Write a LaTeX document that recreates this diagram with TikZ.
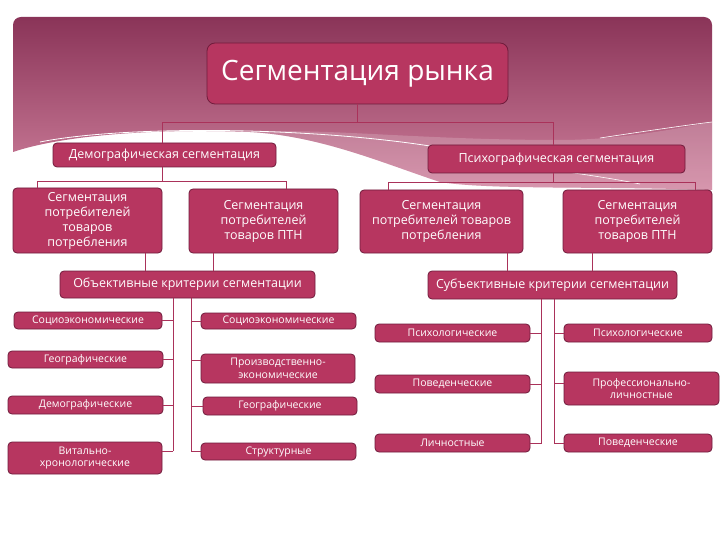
\documentclass[tikz,border=0pt]{standalone}
\usepackage{fontspec}
\setmainfont{Open Sans}
\usetikzlibrary{calc,positioning}
\definecolor{bordo}{RGB}{183,54,96}
\definecolor{bordosombre}{RGB}{112,28,60}
\definecolor{fondhaut}{RGB}{138,52,88}
\definecolor{fondbas}{RGB}{206,128,156}
\definecolor{lien}{RGB}{170,50,90}

\tikzset{
  boite/.style={draw=bordosombre,fill=bordo,text=white,rounded corners=4pt,
    line width=0.8pt,inner sep=1pt,align=center},
  petit/.style={boite,font=\fontsize{10.5}{12.5}\selectfont},
  moyen/.style={boite,font=\fontsize{12.5}{15}\selectfont},
  lien/.style={draw=lien,line width=1pt},
}

\begin{document}
\begin{tikzpicture}[x=1pt,y=-1pt]
  \useasboundingbox[fill=white] (0,0) rectangle (720,540);
  %% bandeau de fond
  \shade[top color=fondhaut,bottom color=fondbas]
    (13,152) [rounded corners=8pt] -- (13,17) -- (712,17) [sharp corners] -- (712,190)
    .. controls (600,186) and (490,190) .. (440,182)
    .. controls (380,162) and (320,136) .. (250,132)
    .. controls (150,128) and (60,136) .. (13,152) -- cycle;
  \fill[white,opacity=0.18] (250,132) .. controls (330,128) and (420,140) .. (560,140)
    .. controls (620,140) and (680,128) .. (712,122) -- (712,190)
    .. controls (600,186) and (490,190) .. (440,182)
    .. controls (380,162) and (320,136) .. (250,132) -- cycle;
  \draw[white,line width=0.8pt] (40,142) .. controls (120,126) and (300,126) .. (430,146);
  \draw[white,line width=0.6pt] (600,138) .. controls (640,132) and (680,126) .. (712,122);
  \draw[white,line width=0.6pt] (520,166) .. controls (570,172) and (610,178) .. (640,184);

  %% niveau 1
  \node[boite,rounded corners=8pt,minimum width=301,minimum height=61,
    font=\fontsize{28}{32}\selectfont] (titre) at (357.5,73.5) {Сегментация рынка};

  %% niveau 2
  \node[moyen,minimum width=223,minimum height=24] (demo) at (164.5,155) {Демографическая сегментация};
  \node[moyen,minimum width=257,minimum height=28] (psy) at (556.5,159) {Психографическая сегментация};

  %% niveau 3
  \node[moyen,minimum width=149,minimum height=65] (seg1) at (87.5,220.5) {Сегментация\\потребителей\\товаров\\потребления};
  \node[moyen,minimum width=149,minimum height=64] (seg2) at (263.5,221) {Сегментация\\потребителей\\товаров ПТН};
  \node[moyen,minimum width=163,minimum height=63] (seg3) at (441.5,221.5) {Сегментация\\потребителей товаров\\потребления};
  \node[moyen,minimum width=149,minimum height=63] (seg4) at (637.5,221.5) {Сегментация\\потребителей\\товаров ПТН};

  %% niveau 4
  \node[moyen,minimum width=255,minimum height=27] (obj) at (187.5,284.5) {Объективные критерии сегментации};
  \node[moyen,minimum width=249,minimum height=28] (subj) at (552.5,285) {Субъективные критерии сегментации};

  %% critères objectifs
  \node[petit,minimum width=148,minimum height=17] (ol1) at (88,320.5) {Социоэкономические};
  \node[petit,minimum width=155,minimum height=17] (ol2) at (85.5,359.5) {Географические};
  \node[petit,minimum width=155,minimum height=18] (ol3) at (85.5,405) {Демографические};
  \node[petit,minimum width=154,minimum height=32] (ol4) at (85,458) {Витально-\\хронологические};
  \node[petit,minimum width=155,minimum height=16] (or1) at (278.5,321) {Социоэкономические};
  \node[petit,minimum width=154,minimum height=29] (or2) at (278,368.5) {Производственно-\\экономические};
  \node[petit,minimum width=154,minimum height=18] (or3) at (280,406) {Географические};
  \node[petit,minimum width=155,minimum height=17] (or4) at (278.5,451.5) {Структурные};

  %% critères subjectifs
  \node[petit,minimum width=155,minimum height=18] (sl1) at (452.5,333) {Психологические};
  \node[petit,minimum width=155,minimum height=18] (sl2) at (452.5,384) {Поведенческие};
  \node[petit,minimum width=155,minimum height=18] (sl3) at (452.5,443) {Личностные};
  \node[petit,minimum width=148,minimum height=18] (sr1) at (638,333) {Психологические};
  \node[petit,minimum width=155,minimum height=33] (sr2) at (641.5,388.5) {Профессионально-\\личностные};
  \node[petit,minimum width=148,minimum height=18] (sr3) at (638,443) {Поведенческие};

  %% liaisons
  \coordinate (t1) at (162,123);
  \coordinate (t2) at (553,123);
  \draw[lien] (titre.south) -- (titre.south |- t1);
  \draw[lien] (demo.north -| t1) -- (t1) -- (t2) -- (psy.north -| t2);

  \coordinate (d1) at (37,182);
  \coordinate (d2) at (286,182);
  \draw[lien] (demo.south -| t1) -- (t1 |- d1);
  \draw[lien] (seg1.north -| d1) -- (d1) -- (d2) -- (seg2.north -| d2);

  \coordinate (p1) at (388,183);
  \coordinate (p2) at (695,183);
  \draw[lien] (psy.south -| t2) -- (t2 |- p1);
  \draw[lien] (seg3.north -| p1) -- (p1) -- (p2) -- (seg4.north -| p2);

  \coordinate (xs1) at (145,0);
  \coordinate (xs2) at (213,0);
  \coordinate (xs3) at (507,0);
  \coordinate (xs4) at (592,0);
  \draw[lien] (seg1.south -| xs1) -- (obj.north -| xs1);
  \draw[lien] (seg2.south -| xs2) -- (obj.north -| xs2);
  \draw[lien] (seg3.south -| xs3) -- (subj.north -| xs3);
  \draw[lien] (seg4.south -| xs4) -- (subj.north -| xs4);

  \coordinate (ga) at (173,451);
  \coordinate (dr) at (191,452);
  \draw[lien] (obj.south -| ga) -- (ga);
  \draw[lien] (obj.south -| dr) -- (dr);
  \foreach \b in {ol1,ol2,ol3}
    \draw[lien] (\b.east) -- (\b.east -| ga);
  \draw[lien] (ga) -- (ga -| ol4.east);
  \foreach \b in {or1,or3,or4}
    \draw[lien] (\b.west) -- (\b.west -| dr);
  \draw[lien] ($(or2.west)+(0,-8.5)$) -- ($(or2.west -| dr)+(0,-8.5)$);

  \coordinate (sg) at (541,444);
  \coordinate (sd) at (554,444);
  \draw[lien] (subj.south -| sg) -- (sg);
  \draw[lien] (subj.south -| sd) -- (sd);
  \foreach \b in {sl1,sl2,sl3}
    \draw[lien] (\b.east) -- (\b.east -| sg);
  \foreach \b in {sr1,sr3}
    \draw[lien] (\b.west) -- (\b.west -| sd);
  \draw[lien] ($(sr2.west)+(0,-5.5)$) -- ($(sr2.west -| sd)+(0,-5.5)$);
\end{tikzpicture}
\end{document}
